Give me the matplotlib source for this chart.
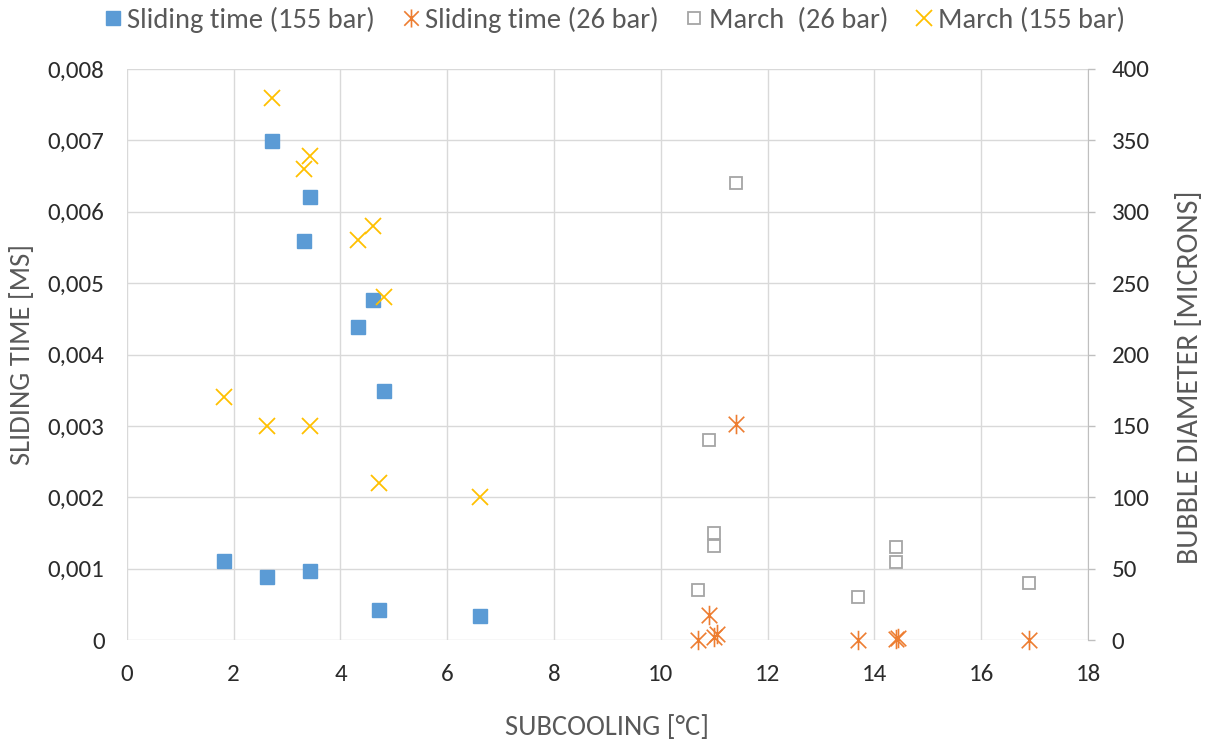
import matplotlib
matplotlib.use("Agg")
import matplotlib.pyplot as plt
from matplotlib.path import Path
from matplotlib.ticker import FuncFormatter, MultipleLocator
from matplotlib.lines import Line2D
from matplotlib import font_manager

avail = set(f.name for f in font_manager.fontManager.ttflist)
fam = [f for f in ['Carlito', 'Liberation Sans Narrow', 'Open Sans'] if f in avail] + ['DejaVu Sans']
plt.rcParams['font.family'] = fam

# Sliding time (155 bar) - left axis
st155_x = [2.72, 3.43, 3.31, 4.61, 4.33, 4.81, 1.82, 2.62, 3.43, 4.72, 6.61]
st155_y = [0.00699, 0.00620, 0.00559, 0.00476, 0.00438, 0.00349, 0.00111, 0.00088, 0.00096, 0.00042, 0.00034]

# Sliding time (26 bar) - left axis
st26_x = [10.7, 10.9, 11.0, 11.05, 11.4, 13.7, 14.4, 14.45, 16.9]
st26_y = [0.0, 0.00035, 0.00004, 0.00008, 0.00303, 0.0, 0.00002, 0.00003, 0.0]

# March (26 bar) - right axis
m26_x = [11.4, 10.9, 11.0, 11.0, 10.7, 13.7, 14.4, 14.4, 16.9]
m26_y = [320, 140, 75, 66, 35, 30, 65, 55, 40]

# March (155 bar) - right axis
m155_x = [2.72, 3.43, 3.31, 4.61, 4.33, 4.81, 1.82, 2.62, 3.43, 4.72, 6.61]
m155_y = [380, 339, 330, 290, 280, 240, 170, 150, 150, 110, 100]

blue = '#5b9bd5'
orange = '#ed7d31'
gray = '#a5a5a5'
yellow = '#ffc000'
txt = '#595959'
ticktxt = '#2b2b2b'
grid = '#d9d9d9'
spine = '#bfbfbf'

# Excel-like star marker: vertical line + X
star = Path([(0, -1), (0, 1), (-0.8, -0.8), (0.8, 0.8), (-0.8, 0.8), (0.8, -0.8)],
            [Path.MOVETO, Path.LINETO, Path.MOVETO, Path.LINETO, Path.MOVETO, Path.LINETO])

fig = plt.figure(figsize=(12.08, 7.49), dpi=100)
ax = fig.add_axes([0.105, 0.1455, 0.7957, 0.7624])
ax2 = ax.twinx()

ax.set_xlim(0, 18)
ax.set_ylim(0, 0.008)
ax2.set_ylim(0, 400)
ax.xaxis.set_major_locator(MultipleLocator(2))
ax.yaxis.set_major_locator(MultipleLocator(0.001))
ax2.yaxis.set_major_locator(MultipleLocator(50))

def comma_fmt(v, pos):
    if abs(v) < 1e-12:
        return '0'
    return ('%.3f' % v).replace('.', ',')
ax.yaxis.set_major_formatter(FuncFormatter(comma_fmt))
ax2.yaxis.set_major_formatter(FuncFormatter(lambda v, p: '%d' % v))

ax.grid(True, color=grid, linewidth=1.0)
ax.set_axisbelow(True)
for a in (ax, ax2):
    for s in a.spines.values():
        s.set_visible(False)
ax.tick_params(axis='y', length=0, labelsize=18, labelcolor=ticktxt, pad=16)
ax.tick_params(axis='x', length=0, labelsize=18, labelcolor=ticktxt, pad=17)
ax2.spines['right'].set_visible(True)
ax2.spines['right'].set_color(spine)
ax2.tick_params(axis='y', length=5, width=1, color=spine, direction='out',
                labelsize=18, labelcolor=ticktxt, pad=12)

ax.plot(st155_x, st155_y, linestyle='none', marker='s', markersize=10.5, color=blue,
        markeredgecolor=blue, zorder=3)
ax.plot(st26_x, st26_y, linestyle='none', marker=star, markersize=14, color=orange,
        markeredgewidth=1.2, zorder=3, clip_on=False)
ax2.plot(m26_x, m26_y, linestyle='none', marker='s', markersize=9, markerfacecolor='white',
         markeredgecolor=gray, markeredgewidth=1.3, zorder=3)
ax2.plot(m155_x, m155_y, linestyle='none', marker='x', markersize=11, color=yellow,
         markeredgewidth=1.3, zorder=3)

ax.set_xlabel('SUBCOOLING [°C]', fontsize=20.5, color=txt, labelpad=22)
ax.set_ylabel('SLIDING TIME [MS]', fontsize=20.5, color=txt, labelpad=9)
ax2.set_ylabel('BUBBLE DIAMETER [MICRONS]', fontsize=21.5, color=txt)
ax2.yaxis.set_label_coords(1.091, 0.46)

handles = [
    Line2D([], [], linestyle='none', marker='s', markersize=10, color=blue),
    Line2D([], [], linestyle='none', marker=star, markersize=13, color=orange, markeredgewidth=1.2),
    Line2D([], [], linestyle='none', marker='s', markersize=9, markerfacecolor='white',
           markeredgecolor=gray, markeredgewidth=1.3),
    Line2D([], [], linestyle='none', marker='x', markersize=11, color=yellow, markeredgewidth=1.3),
]
labels = ['Sliding time (155 bar)', 'Sliding time (26 bar)', 'March  (26 bar)', 'March (155 bar)']
leg = fig.legend(handles, labels, loc='center', bbox_to_anchor=(0.509, 0.973), ncol=4,
                 frameon=False, fontsize=20.5, handlelength=0.6, handletextpad=0.2,
                 columnspacing=0.95, borderpad=0)
for t in leg.get_texts():
    t.set_color(txt)

fig.savefig('out.png', dpi=100)
